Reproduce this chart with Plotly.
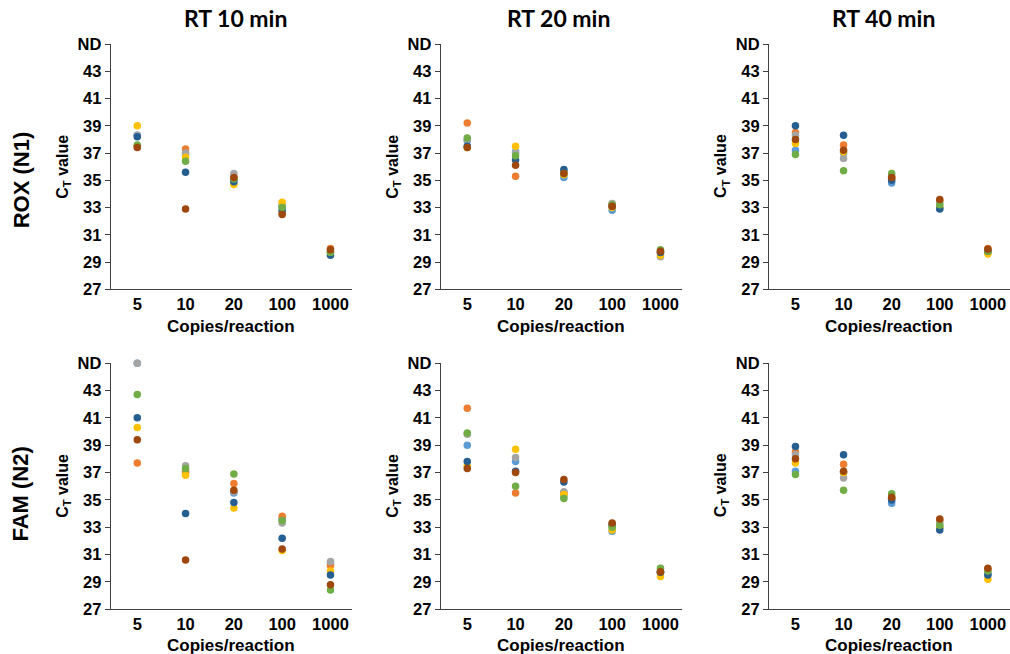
import plotly.graph_objects as go

categories = ["5", "10", "20", "100", "1000"]
series_names = ["S1", "S2", "S3", "S4", "S5", "S6", "S7"]
series_colors = ["#5B9BD5", "#ED7D31", "#A5A5A5", "#FFC000", "#255E91", "#70AD47", "#9E480E"]
ytick_vals = [27, 29, 31, 33, 35, 37, 39, 41, 43, 45]
ytick_text = ["27", "29", "31", "33", "35", "37", "39", "41", "43", "ND"]

# ROX (N1), RT 10 min  (rows: series, cols: categories)
rox_rt10 = [
    [38.3, 36.9, 35.0, 33.1, 29.7],
    [37.5, 37.3, 35.2, 32.6, 30.0],
    [38.3, 37.0, 35.5, 33.2, 29.7],
    [39.0, 36.7, 34.7, 33.4, 29.7],
    [38.2, 35.6, 34.9, 32.8, 29.5],
    [37.6, 36.4, 35.1, 33.0, 29.7],
    [37.4, 32.9, 35.2, 32.5, 29.9],
]
rox_rt20 = [
    [37.9, 37.1, 35.2, 32.8, 29.7],
    [39.2, 35.3, 35.6, 33.2, 29.7],
    [38.0, 37.0, 35.7, 33.3, 29.4],
    [37.4, 37.5, 35.4, 33.0, 29.5],
    [37.5, 36.5, 35.8, 33.1, 29.7],
    [38.1, 36.8, 35.5, 33.2, 29.9],
    [37.4, 36.1, 35.5, 33.1, 29.8],
]
rox_rt40 = [
    [37.2, 37.0, 34.8, 32.95, 29.8],
    [38.5, 37.6, 35.2, 33.5, 30.0],
    [38.3, 36.6, 35.3, 33.3, 29.8],
    [37.7, 37.1, 35.1, 33.0, 29.6],
    [39.0, 38.3, 35.0, 32.9, 29.8],
    [36.9, 35.7, 35.5, 33.2, 29.8],
    [38.0, 37.2, 35.2, 33.6, 29.95],
]
fam_rt10 = [
    [45.0, 37.1, 35.5, 33.6, 30.4],
    [37.7, 37.0, 36.2, 33.8, 30.2],
    [45.0, 37.5, 35.6, 33.3, 30.5],
    [40.3, 36.8, 34.4, 31.3, 29.8],
    [41.0, 34.0, 34.8, 32.2, 29.5],
    [42.7, 37.3, 36.9, 33.5, 28.4],
    [39.4, 30.6, 35.7, 31.4, 28.8],
]
fam_rt20 = [
    [39.0, 37.8, 35.3, 32.7, 29.7],
    [41.7, 35.5, 35.5, 33.1, 29.7],
    [39.8, 38.1, 35.6, 33.2, 29.7],
    [37.5, 38.7, 35.4, 32.8, 29.4],
    [37.8, 37.1, 36.3, 33.2, 29.7],
    [39.9, 36.0, 35.1, 33.0, 30.0],
    [37.3, 37.0, 36.5, 33.3, 29.75],
]
fam_rt40 = [
    [37.1, 37.0, 34.75, 33.0, 29.6],
    [38.5, 37.6, 35.1, 33.5, 29.9],
    [38.3, 36.6, 35.2, 33.3, 29.6],
    [37.7, 37.0, 35.1, 33.0, 29.2],
    [38.9, 38.3, 35.0, 32.8, 29.5],
    [36.85, 35.7, 35.45, 33.15, 29.8],
    [38.0, 37.1, 35.2, 33.6, 30.0],
]

panels = [rox_rt10, rox_rt20, rox_rt40, fam_rt10, fam_rt20, fam_rt40]
col_titles = ["RT 10 min", "RT 20 min", "RT 40 min"]
row_titles = ["ROX (N1)", "FAM (N2)"]

W, H = 1010, 654
col_px = [(110.7, 352.2), (440.7, 682.2), (769.0, 1009.5)]
row_px = [(43.3, 289.3), (363.3, 610.0)]

def px_x(v):
    return v / W

def px_y(v):
    # compensate observed vertical mapping of the rendering
    v = (v - 8.2) / 0.975
    return 1 - v / H

ARIAL = "Liberation Sans, Arial, sans-serif"
fig = go.Figure()
tickfont = dict(family=ARIAL, size=16.5, color="#000000", weight="bold")
axis_color = "#404040"

for i, data in enumerate(panels):
    r, c = divmod(i, 3)
    n = i + 1
    xa = "x" if n == 1 else f"x{n}"
    ya = "y" if n == 1 else f"y{n}"
    for s, name in enumerate(series_names):
        fig.add_trace(go.Scatter(
            x=list(range(len(categories))), y=data[s], mode="markers",
            name=name, showlegend=False, cliponaxis=False,
            marker=dict(color=series_colors[s], size=7.5),
            xaxis=xa, yaxis=ya,
        ))
    xk = "xaxis" if n == 1 else f"xaxis{n}"
    yk = "yaxis" if n == 1 else f"yaxis{n}"
    fig.layout[xk] = dict(
        domain=[px_x(col_px[c][0]), min(1.0, px_x(col_px[c][1]))],
        anchor=ya, range=[-0.55, 4.45],
        tickvals=list(range(len(categories))), ticktext=categories,
        showgrid=False, zeroline=False, showline=True, linecolor=axis_color, linewidth=1,
        ticks="", tickfont=tickfont,
    )
    fig.layout[yk] = dict(
        domain=[px_y(row_px[r][1]), px_y(row_px[r][0])],
        anchor=xa, range=[27, 45],
        tickvals=ytick_vals, ticktext=ytick_text,
        showgrid=False, zeroline=False, showline=True, linecolor=axis_color, linewidth=1,
        ticks="outside", ticklen=5, tickcolor=axis_color, tickfont=tickfont,
    )

annotations = []
title_x = [235, 558, 883]
for c, t in enumerate(col_titles):
    annotations.append(dict(text=t, x=px_x(title_x[c]), y=px_y(17), xref="paper", yref="paper",
                            showarrow=False, xanchor="center", yanchor="middle",
                            font=dict(family="Lato, sans-serif", size=23, color="#000000", weight="bold")))
row_label_y = [180, 495]
for r, t in enumerate(row_titles):
    annotations.append(dict(text=t, x=px_x(21), y=px_y(row_label_y[r]), xref="paper", yref="paper",
                            showarrow=False, textangle=-90, xanchor="center", yanchor="middle",
                            font=dict(family=ARIAL, size=22, color="#000000", weight="bold")))
xtitle_y = [327, 646]
ytitle_y = [166, 486]
for r in range(2):
    for c in range(3):
        cx = (col_px[c][0] + min(col_px[c][1], 1009.5)) / 2
        annotations.append(dict(text="Copies/reaction", x=px_x(cx), y=px_y(xtitle_y[r]), xref="paper", yref="paper",
                                showarrow=False, xanchor="center", yanchor="middle",
                                font=dict(family=ARIAL, size=17, color="#000000", weight="bold")))
        annotations.append(dict(text="C<sub>T</sub> value", x=px_x(col_px[c][0] - 47.4), y=px_y(ytitle_y[r]),
                                xref="paper", yref="paper", showarrow=False, textangle=-90,
                                xanchor="center", yanchor="middle",
                                font=dict(family=ARIAL, size=16, color="#000000", weight="bold")))

fig.update_layout(
    width=W, height=H, margin=dict(l=0, r=0, t=0, b=0),
    paper_bgcolor="#FFFFFF", plot_bgcolor="#FFFFFF",
    annotations=annotations, showlegend=False,
)

fig.write_html(
    "out.html",
    config={"displayModeBar": False},
    post_script="document.body.style.margin='0';document.body.style.overflow='hidden';",
)
